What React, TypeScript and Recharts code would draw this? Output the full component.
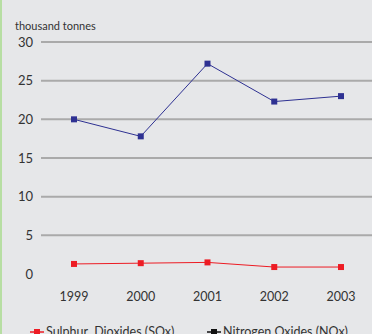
import React from 'react';
import { LineChart, Line, XAxis, YAxis, CartesianGrid } from 'recharts';

const years = ['1999', '2000', '2001', '2002', '2003'];
const sulphurDioxides = [1.3, 1.4, 1.5, 0.9, 0.9];
const nitrogenOxides = [20.0, 17.8, 27.2, 22.3, 23.0];
const yTicks = [0, 5, 10, 15, 20, 25, 30];

const data = years.map((year, i) => ({
  year,
  sox: sulphurDioxides[i],
  nox: nitrogenOxides[i],
}));

const RED = '#ed1c24';
const BLUE = '#2e3192';
const TEXT = '#333333';
const FONT = 'Lato, "Liberation Sans", sans-serif';

const SquareDot = (color: string) => (props: any) => {
  const { cx, cy, index } = props;
  if (cx == null || cy == null) return <g key={index} />;
  return <rect key={index} x={cx - 3} y={cy - 3} width={6} height={6} fill={color} />;
};

const LegendIcon = ({ color }: { color: string }) => (
  <svg width={14} height={10} style={{ marginRight: 2 }}>
    <line x1={0} y1={5} x2={14} y2={5} stroke={color} strokeWidth={1.5} />
    <rect x={4} y={2} width={6} height={6} fill={color} />
  </svg>
);

export default function App() {
  return (
    <div
      style={{
        position: 'fixed', left: 0, top: 0, width: 372, height: 334, overflow: 'hidden',
        background: '#e6e7e9', fontFamily: FONT, color: TEXT,
      }}
    >
      <div style={{ position: 'absolute', left: 0, top: 0, width: 2, height: 334, background: '#b7dea3' }} />
      <div style={{ position: 'absolute', left: 15, top: 19, fontSize: 11 }}>thousand tonnes</div>
      <LineChart
        width={374}
        height={334}
        data={data}
        margin={{ top: 42, right: 0, bottom: 30, left: 0 }}
      >
        <CartesianGrid vertical={false} stroke="#aaaaaa" strokeWidth={2} horizontalValues={[5, 10, 15, 20, 25, 30]} />
        <XAxis
          dataKey="year"
          axisLine={false}
          tickLine={false}
          height={30}
          tickMargin={12}
          padding={{ left: 33, right: 33 }}
          tick={{ fontSize: 12.5, fill: TEXT, fontFamily: FONT }}
        />
        <YAxis
          domain={[0, 30]}
          ticks={yTicks}
          width={41}
          axisLine={false}
          tickLine={false}
          tick={{ fontSize: 13, fill: TEXT, fontFamily: FONT }}
        />
        <Line dataKey="nox" stroke={BLUE} strokeWidth={1} dot={SquareDot(BLUE)} activeDot={false} isAnimationActive={false} />
        <Line dataKey="sox" stroke={RED} strokeWidth={1} dot={SquareDot(RED)} activeDot={false} isAnimationActive={false} />
      </LineChart>
      <div style={{ position: 'absolute', left: 30, top: 324, fontSize: 12.5, display: 'flex', alignItems: 'center', whiteSpace: 'pre' }}>
        <LegendIcon color={RED} />
        <span>Sulphur  Dioxides (SOx)</span>
      </div>
      <div style={{ position: 'absolute', left: 207, top: 324, fontSize: 12.5, display: 'flex', alignItems: 'center', whiteSpace: 'pre' }}>
        <LegendIcon color="#111111" />
        <span>Nitrogen Oxides (NOx)</span>
      </div>
    </div>
  );
}
